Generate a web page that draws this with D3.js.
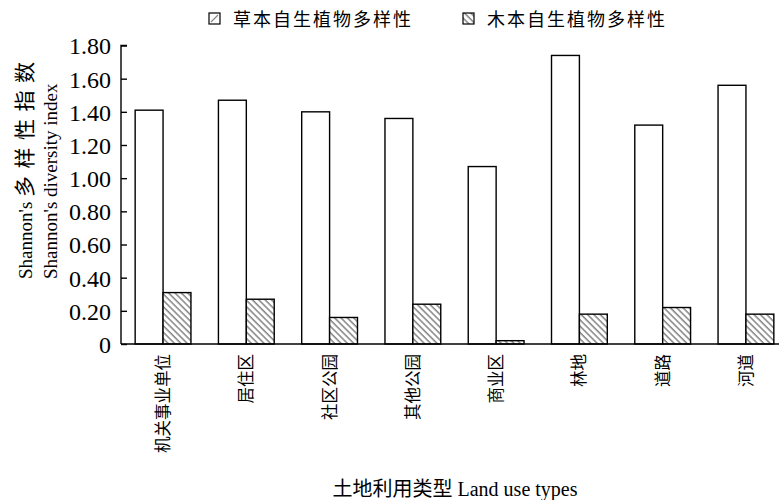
<!DOCTYPE html>
<html>
<head>
<meta charset="utf-8">
<script src="https://cdn.jsdelivr.net/npm/d3@7"></script>
<style>
  body { margin: 0; background: #fff; }
  svg text { font-family: "Liberation Serif", "Noto Sans CJK SC", serif; fill: #000; }
</style>
</head>
<body>
<svg id="chart" width="779" height="500"></svg>
<script>
const categories = ["机关事业单位", "居住区", "社区公园", "其他公园", "商业区", "林地", "道路", "河道"];
const seriesNames = ["草本自生植物多样性", "木本自生植物多样性"];
const herbValues = [1.41, 1.47, 1.40, 1.36, 1.07, 1.74, 1.32, 1.56];
const woodValues = [0.31, 0.27, 0.16, 0.24, 0.02, 0.18, 0.22, 0.18];
const yTicks = [0, 0.2, 0.4, 0.6, 0.8, 1.0, 1.2, 1.4, 1.6, 1.8];

const width = 779, height = 500;
const plotLeft = 121, plotBottom = 344, plotTop = 45.5;

const svg = d3.select("#chart");

// hatch pattern for woody series
const defs = svg.append("defs");
const pat = defs.append("pattern")
  .attr("id", "hatch")
  .attr("patternUnits", "userSpaceOnUse")
  .attr("width", 4.5).attr("height", 4.5)
  .attr("patternTransform", "rotate(-45)");
pat.append("rect").attr("width", 4.5).attr("height", 4.5).attr("fill", "#fff");
pat.append("line")
  .attr("x1", 1).attr("y1", 0).attr("x2", 1).attr("y2", 4.5)
  .attr("stroke", "#555").attr("stroke-width", 1.1);

const x0 = d3.scaleBand().domain(categories).range([plotLeft, 788])
  .paddingInner(0.33).paddingOuter(0.17);
const x1 = d3.scaleBand().domain(seriesNames).range([0, x0.bandwidth()]);
const y = d3.scaleLinear().domain([0, 1.8]).range([plotBottom, plotTop]);

const rows = categories.map((c, i) => ({ cat: c, vals: [herbValues[i], woodValues[i]] }));

const groups = svg.selectAll(".grp")
  .data(rows)
  .enter().append("g")
  .attr("transform", d => `translate(${x0(d.cat)},0)`);

groups.selectAll("rect")
  .data(d => d.vals.map((v, j) => ({ key: seriesNames[j], v: v, j: j })))
  .enter().append("rect")
  .attr("x", d => x1(d.key))
  .attr("y", d => y(d.v))
  .attr("width", x1.bandwidth())
  .attr("height", d => plotBottom - y(d.v))
  .attr("fill", d => d.j === 0 ? "#fff" : "url(#hatch)")
  .attr("stroke", "#000")
  .attr("stroke-width", 1.4);

// y axis
const yAxis = svg.append("g")
  .attr("transform", `translate(${plotLeft},0)`)
  .call(d3.axisRight(y).tickValues(yTicks).tickSize(6).tickFormat(d => d === 0 ? "0" : d.toFixed(2)));
yAxis.select(".domain").attr("d", `M6,${plotTop}H0V${plotBottom}`).attr("stroke", "#000").attr("stroke-width", 1.4);
yAxis.selectAll(".tick line").attr("stroke", "#000").attr("stroke-width", 1.4);
yAxis.selectAll(".tick text")
  .attr("x", -10).attr("dy", "0.35em")
  .attr("text-anchor", "end")
  .attr("font-size", "24px")
  .style("font-family", "'Liberation Serif', serif");

// x axis line
svg.append("line")
  .attr("x1", plotLeft).attr("x2", width)
  .attr("y1", plotBottom).attr("y2", plotBottom)
  .attr("stroke", "#000").attr("stroke-width", 1.4);

// x category labels (rotated)
svg.selectAll(".xlab")
  .data(categories)
  .enter().append("text")
  .attr("transform", d => `translate(${x0(d) + x0.bandwidth() / 2 + 6},354) rotate(-90)`)
  .attr("text-anchor", "end")
  .attr("font-size", "16.5px")
  .text(d => d);

// y axis title
svg.append("text")
  .attr("transform", "translate(32,279) rotate(-90)")
  .attr("text-anchor", "start")
  .attr("font-size", "19px")
  .text("Shannon's ")
  .append("tspan")
  .attr("font-size", "21px")
  .attr("letter-spacing", "7.5px")
  .text("多样性指数");
svg.append("text")
  .attr("transform", "translate(57,279) rotate(-90)")
  .attr("text-anchor", "start")
  .attr("font-size", "19px")
  .text("Shannon's diversity index");

// x axis title
svg.append("text")
  .attr("x", 455).attr("y", 496)
  .attr("text-anchor", "middle")
  .attr("font-size", "20px")
  .text("土地利用类型 Land use types");

// legend
const legendX = [209, 463];
const leg = svg.selectAll(".leg")
  .data(seriesNames)
  .enter().append("g")
  .attr("transform", (d, i) => `translate(${legendX[i]},13)`);
leg.append("rect")
  .attr("width", 11).attr("height", 11)
  .attr("fill", (d, i) => i === 0 ? "#fff" : "url(#hatch)")
  .attr("stroke", "#000").attr("stroke-width", 1.2);
leg.filter((d, i) => i === 0).append("line")
  .attr("x1", 2).attr("y1", 9).attr("x2", 9).attr("y2", 2)
  .attr("stroke", "#888").attr("stroke-width", 1.2);
leg.append("text")
  .attr("x", 24).attr("y", 13)
  .attr("font-size", "18px")
  .attr("letter-spacing", "2px")
  .text(d => d);
</script>
</body>
</html>
